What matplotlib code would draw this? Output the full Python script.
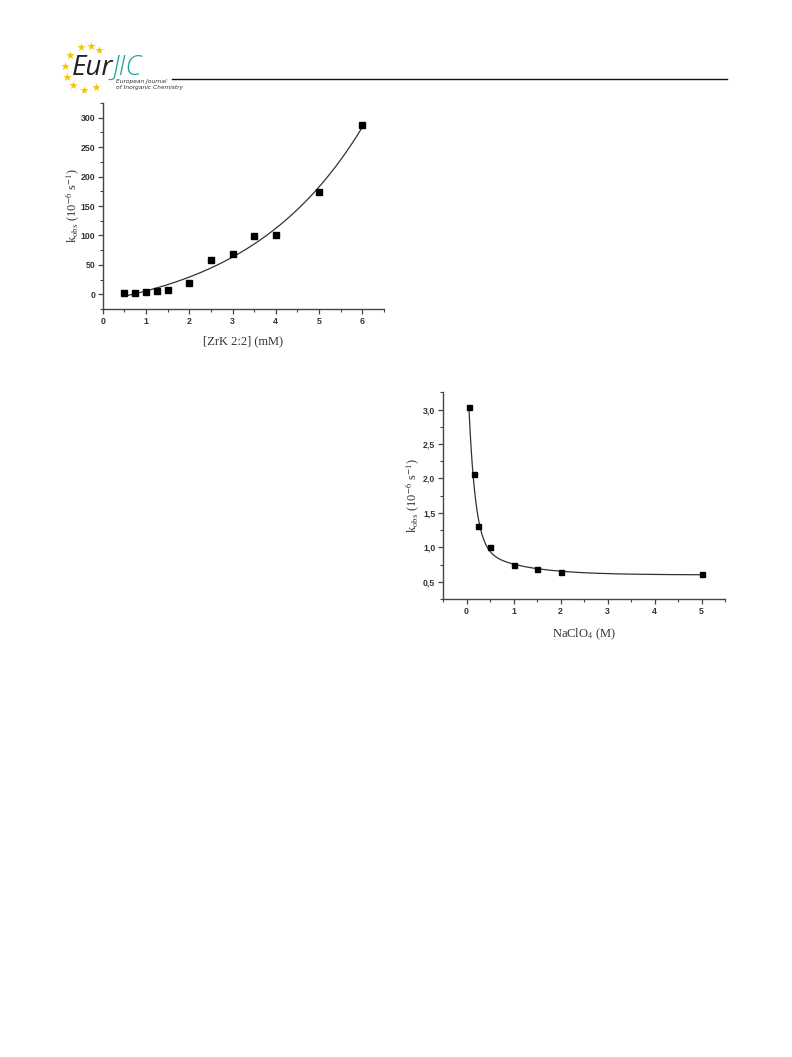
import matplotlib
matplotlib.use("Agg")
import matplotlib.pyplot as plt
from matplotlib.ticker import MultipleLocator, FormatStrFormatter
import numpy as np

plt.rcParams['mathtext.fontset'] = 'stix'

# figure 1: k_obs vs [ZrK 2:2]
conc_mm = np.array([0.5, 0.75, 1.0, 1.25, 1.5, 2.0, 2.5, 3.0, 3.5, 4.0, 5.0, 6.0])
kobs_1 = np.array([2.0, 2.5, 4.5, 5.0, 8.0, 20.0, 59.0, 68.5, 99.0, 101.0, 174.0, 288.0])

# figure 2: k_obs vs NaClO4
naclo4_m = np.array([0.05, 0.15, 0.25, 0.5, 1.0, 1.5, 2.0, 5.0])
kobs_2 = np.array([3.03, 2.06, 1.31, 1.00, 0.75, 0.69, 0.64, 0.61])


def fit_expgrow(x, y):
    # y = y0 + A*exp(x/t), grid over t, linear least squares for y0, A
    best = None
    for t in np.linspace(0.5, 10, 400):
        M = np.column_stack([np.ones_like(x), np.exp(x / t)])
        c = np.linalg.lstsq(M, y, rcond=None)[0]
        r = np.sum((M @ c - y) ** 2)
        if best is None or r < best[0]:
            best = (r, t, c)
    _, t, c = best
    return lambda xx: c[0] + c[1] * np.exp(xx / t)


def fit_expdec2(x, y):
    # y = y0 + A1*exp(-x/t1) + A2*exp(-x/t2)
    best = None
    for t1 in np.linspace(0.02, 0.4, 77):
        for t2 in np.linspace(0.2, 3.0, 113):
            if t2 <= t1:
                continue
            M = np.column_stack([np.ones_like(x), np.exp(-x / t1), np.exp(-x / t2)])
            c = np.linalg.lstsq(M, y, rcond=None)[0]
            r = np.sum((M @ c - y) ** 2)
            if best is None or r < best[0]:
                best = (r, t1, t2, c)
    _, t1, t2, c = best
    return lambda xx: c[0] + c[1] * np.exp(-xx / t1) + c[2] * np.exp(-xx / t2)


W, H = 792, 1057
fig = plt.figure(figsize=(W / 100, H / 100), dpi=100)

# page header (logo + rule)
page = fig.add_axes([0, 0, 1, 1])
page.set_xlim(0, W)
page.set_ylim(H, 0)
page.axis('off')
star_x = [81, 91, 99, 70, 65, 67, 73, 84, 96]
star_y = [47, 46, 50, 55, 66, 77, 85, 90, 87]
page.scatter(star_x, star_y, marker='*', s=40, color='#f2c500', linewidths=0)
eur = page.text(72, 75, 'Eur', fontsize=20, style='italic', color='#222222',
                family='Open Sans', va='baseline', ha='left')
fig.canvas.draw()
bb = eur.get_window_extent()
x_end = page.transData.inverted().transform((bb.x1, bb.y0))[0]
page.text(x_end - 1, 75, 'JIC', fontsize=20, style='italic', color='#1aa39a',
          family='Open Sans', fontweight='light', va='baseline', ha='left')
page.text(116, 83, 'European Journal', fontsize=4.2, style='italic',
          color='#333333', va='baseline')
page.text(116, 89.5, 'of Inorganic Chemistry', fontsize=4.2, style='italic',
          color='#333333', va='baseline')
page.plot([172, 727], [79, 79], color='#111111', lw=1.0)


def style_axes(ax):
    for s in ['top', 'right']:
        ax.spines[s].set_visible(False)
    for s in ['left', 'bottom']:
        ax.spines[s].set_color('#444444')
        ax.spines[s].set_linewidth(1.0)
    ax.tick_params(which='major', direction='out', length=3.5, width=0.9,
                   color='#444444', labelsize=6.3, labelcolor='#333333', pad=2)
    ax.tick_params(which='minor', direction='out', length=2, width=0.8, color='#444444')
    for lab in ax.get_xticklabels() + ax.get_yticklabels():
        lab.set_fontweight('bold')
        lab.set_family('Liberation Sans')


ylabel = r'k$_{\rm obs}$ (10$^{-6}$ s$^{-1}$)'

# chart 1
ax1 = fig.add_axes([102.7 / W, 1 - 309 / H, (384 - 102.7) / W, (309 - 103) / H])
xx = np.linspace(conc_mm.min(), conc_mm.max(), 300)
f1 = fit_expgrow(conc_mm, kobs_1)
ax1.plot(xx, f1(xx), color='#333333', lw=0.9)
ax1.plot(conc_mm, kobs_1, 's', color='black', ms=4.2)
ax1.set_xlim(0, 6.5)
ax1.set_ylim(-25, 325)
ax1.xaxis.set_major_locator(MultipleLocator(1))
ax1.xaxis.set_minor_locator(MultipleLocator(0.5))
ax1.yaxis.set_major_locator(MultipleLocator(50))
ax1.yaxis.set_minor_locator(MultipleLocator(25))
style_axes(ax1)
ax1.set_xlabel('[ZrK 2:2] (mM)', family='Liberation Serif', fontsize=9,
               color='#333333', labelpad=7)
ax1.set_ylabel(ylabel, family='Liberation Serif', fontsize=9,
               color='#333333', labelpad=-1)

# chart 2
ax2 = fig.add_axes([443 / W, 1 - 599 / H, (725 - 443) / W, (599 - 392.3) / H])
xx2 = np.linspace(naclo4_m.min(), naclo4_m.max(), 600)
f2 = fit_expdec2(naclo4_m, kobs_2)
ax2.plot(xx2, f2(xx2), color='#333333', lw=0.9)
ax2.plot(naclo4_m, kobs_2, 's', color='black', ms=3.6)
ax2.set_xlim(-0.5, 5.5)
ax2.set_ylim(0.25, 3.25)
ax2.xaxis.set_major_locator(MultipleLocator(1))
ax2.xaxis.set_minor_locator(MultipleLocator(0.5))
ax2.yaxis.set_major_locator(MultipleLocator(0.5))
ax2.yaxis.set_minor_locator(MultipleLocator(0.25))
ax2.yaxis.set_major_formatter(FormatStrFormatter('%.1f'))
style_axes(ax2)
ax2.set_yticklabels([t.get_text().replace('.', ',') for t in ax2.get_yticklabels()])
for lab in ax2.get_yticklabels():
    lab.set_fontweight('bold')
    lab.set_family('Liberation Sans')
ax2.set_xlabel(r'NaClO$_4$ (M)', family='Liberation Serif', fontsize=9,
               color='#333333', labelpad=8)
ax2.set_ylabel(ylabel, family='Liberation Serif', fontsize=9,
               color='#333333', labelpad=1)

fig.savefig('out.png', dpi=100)
